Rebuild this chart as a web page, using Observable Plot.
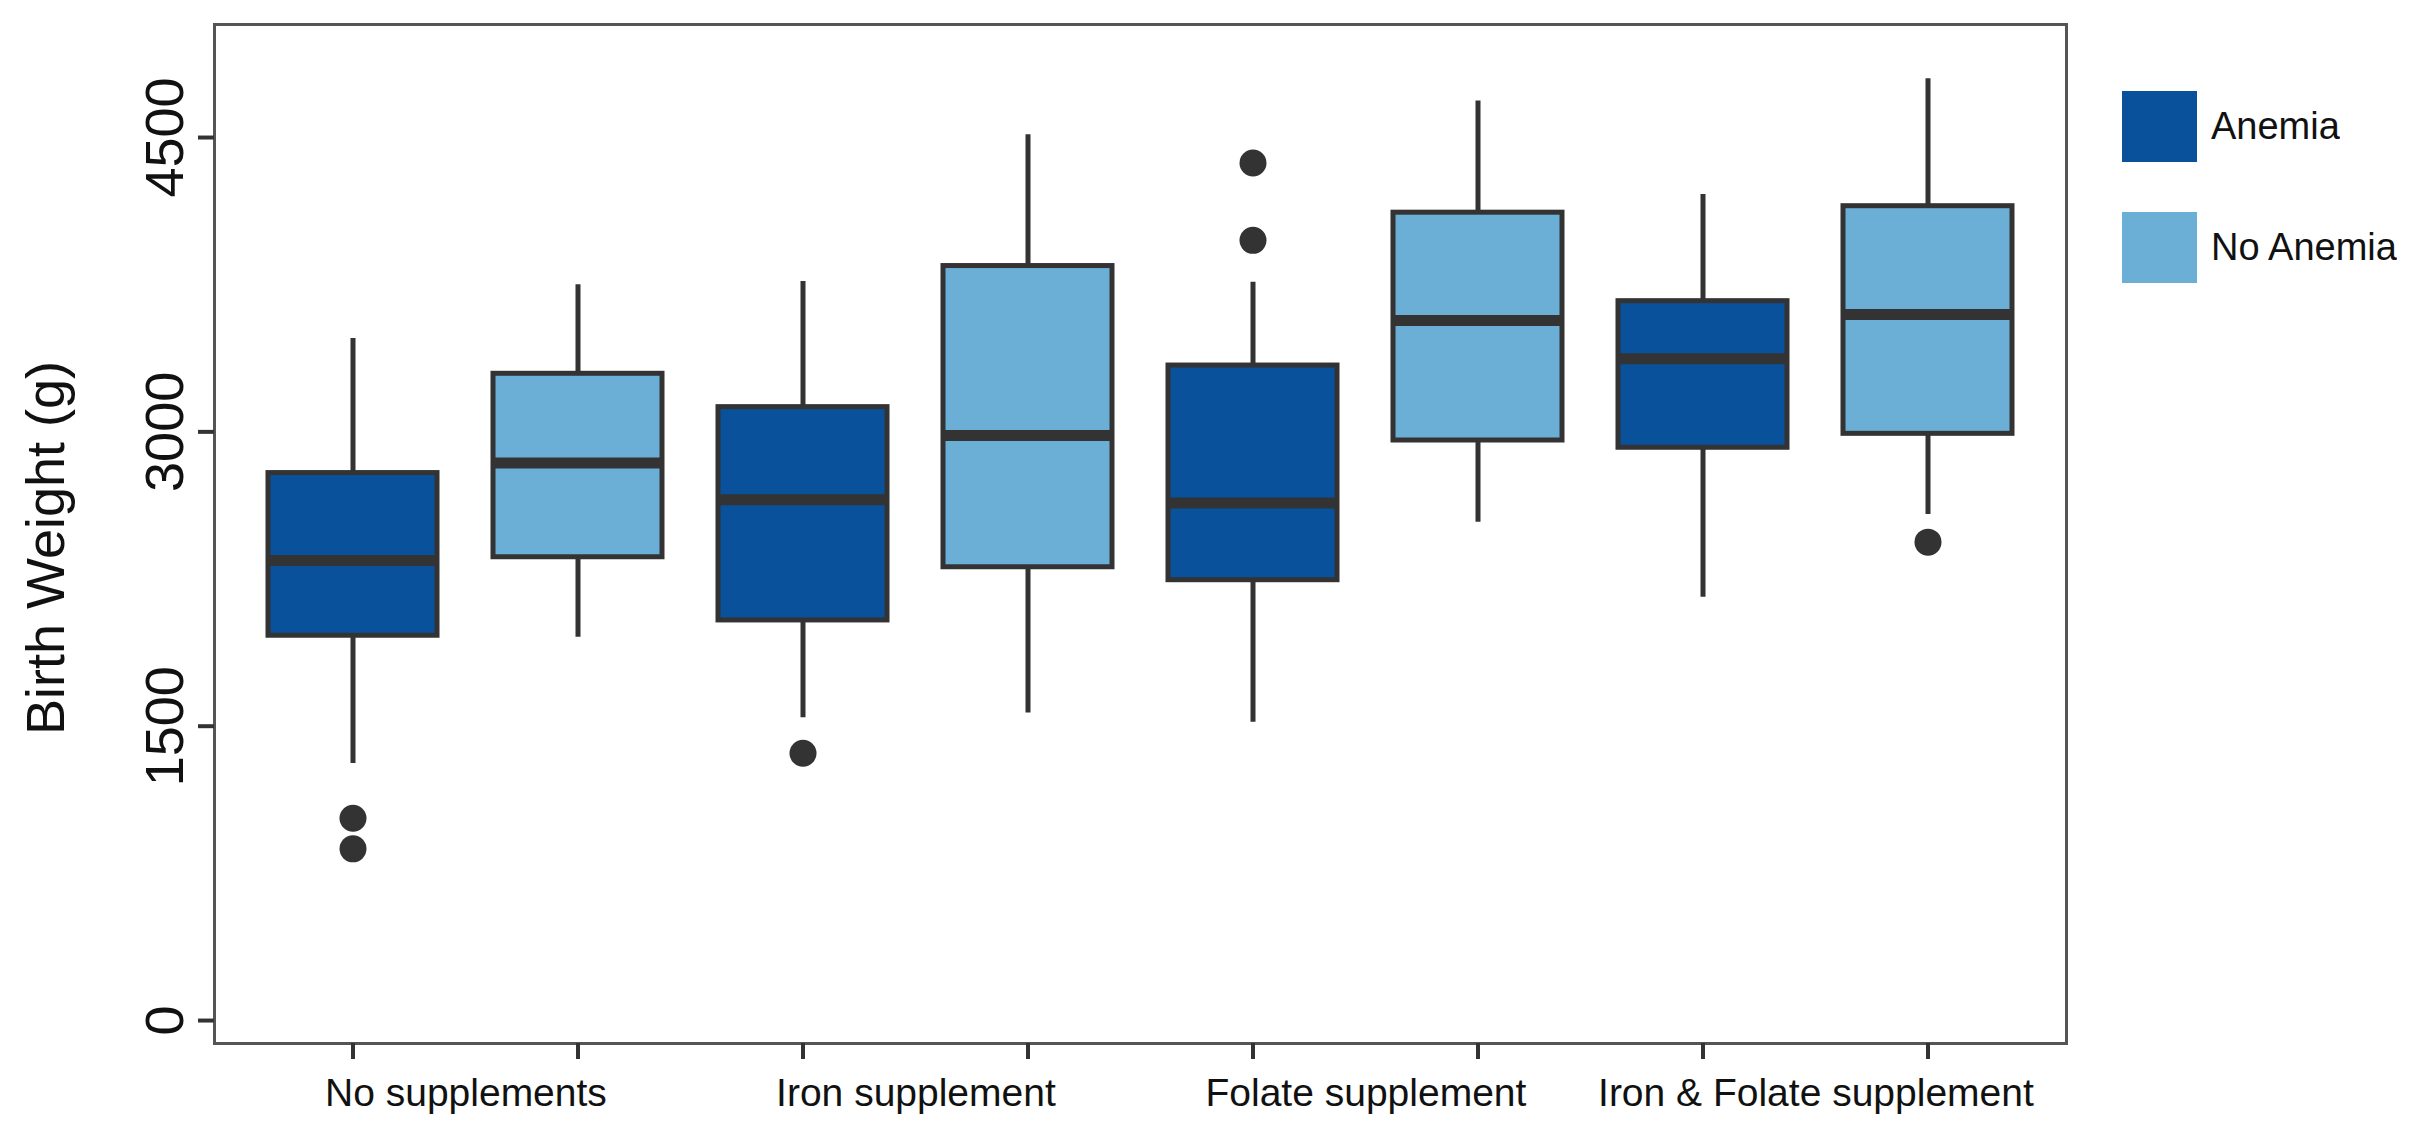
<!DOCTYPE html>
<html>
<head>
<meta charset="utf-8">
<script src="https://cdn.jsdelivr.net/npm/d3@7"></script>
<script src="https://cdn.jsdelivr.net/npm/@observablehq/plot@0.6"></script>
<style>
html, body { margin: 0; padding: 0; background: #fff; }
#wrap { position: relative; width: 2425px; height: 1133px; font-family: "Liberation Sans", Arial, Helvetica, sans-serif; }
#legend { position: absolute; left: 2122px; top: 91px; width: 300px; }
.lg-swatches { font-family: "Liberation Sans", Arial, Helvetica, sans-serif; font-size: 38px; color: #111; margin: 0; }
.lg-swatch { margin-bottom: 49px; }
.lg-swatch > svg { margin-right: 14px; }
</style>
</head>
<body>
<div id="wrap"><div id="chart"></div><div id="legend"></div></div>
<script>
// ---- data ----
const groups = ["No supplements", "Iron supplement", "Folate supplement", "Iron & Folate supplement"];
const statuses = ["Anemia", "No Anemia"];
const colors = ["#0a519c", "#6baed6"];
// order: each group x [Anemia, No Anemia]
const whiskerLow  = [1310, 1953, 1543, 1567, 1520, 2540, 2157, 2579];
const q1          = [1961, 2361, 2039, 2310, 2244, 2956, 2919, 2990];
const median      = [2344, 2841, 2654, 2982, 2638, 3568, 3373, 3598];
const q3          = [2790, 3296, 3126, 3845, 3338, 4117, 3666, 4150];
const whiskerHigh = [3476, 3750, 3766, 4514, 3763, 4686, 4210, 4800];
const outlierGroup  = ["No supplements", "No supplements", "Iron supplement", "Folate supplement", "Folate supplement", "Iron & Folate supplement"];
const outlierStatus = ["Anemia", "Anemia", "Anemia", "Anemia", "Anemia", "No Anemia"];
const outlierValue  = [1031, 875, 1362, 4370, 3976, 2438];
const yTicks = [0, 1500, 3000, 4500];
const yTitle = "Birth Weight (g)";

// ---- layout ----
const W = 2425, H = 1133, ML = 214, MR = 359, MT = 24, MB = 90;
const PAD_IN = 0.25, PAD_OUT = 0.225;
const FONT = "Liberation Sans, Arial, Helvetica, sans-serif";

const keyOf = (g, s) => g + "|" + s;
const keys = groups.flatMap(g => statuses.map(s => keyOf(g, s)));
const boxes = keys.map((k, i) => ({
  key: k, group: groups[Math.floor(i / 2)], status: statuses[i % 2],
  lo: whiskerLow[i], q1: q1[i], med: median[i], q3: q3[i], hi: whiskerHigh[i]
}));
const outs = outlierValue.map((v, i) => ({ key: keyOf(outlierGroup[i], outlierStatus[i]), value: v }));
const step = (W - ML - MR) / (keys.length - PAD_IN + 2 * PAD_OUT);

const chart = Plot.plot({
  width: W, height: H,
  marginLeft: ML, marginRight: MR, marginTop: MT, marginBottom: MB,
  style: { fontFamily: FONT, background: "#fff", overflow: "visible" },
  x: { type: "band", domain: keys, paddingInner: PAD_IN, paddingOuter: PAD_OUT },
  y: { domain: [-117, 5076] },
  color: { domain: statuses, range: colors },
  marks: [
    Plot.ruleX(boxes, { x: "key", y1: "lo", y2: "hi", stroke: "#333", strokeWidth: 5 }),
    Plot.barY(boxes, { x: "key", y1: "q1", y2: "q3", fill: "status", stroke: "#333", strokeWidth: 5 }),
    Plot.tickY(boxes, { x: "key", y: "med", stroke: "#333", strokeWidth: 11 }),
    Plot.dot(outs, { x: "key", y: "value", r: 13.5, fill: "#333", stroke: "none" }),
    Plot.frame({ stroke: "#555", strokeWidth: 3 }),
    Plot.axisY({
      ticks: yTicks, tickFormat: d => String(d), tickSize: 16, tickPadding: 16, tickRotate: -90, fontSize: 54,
      stroke: "#333", strokeWidth: 4, fill: "#111", label: null
    }),
    Plot.text([yTitle], {
      text: d => d, frameAnchor: "left", rotate: -90, lineAnchor: "top", textAnchor: "middle",
      dx: -189, dy: 14, fontSize: 54, fill: "#111"
    }),
    Plot.axisX({ tickSize: 16, tickFormat: () => "", stroke: "#333", strokeWidth: 4, label: null }),
    Plot.text(groups, {
      x: g => keyOf(g, statuses[0]), text: d => d,
      frameAnchor: "bottom", dx: step / 2, dy: 35, lineAnchor: "top",
      fontSize: 39, fill: "#111"
    })
  ]
});
document.getElementById("chart").appendChild(chart);

const legend = Plot.legend({
  color: { type: "ordinal", domain: statuses, range: colors },
  legend: "swatches", columns: 1, swatchWidth: 75, swatchHeight: 71, className: "lg"
});
document.getElementById("legend").appendChild(legend);
</script>
</body>
</html>
